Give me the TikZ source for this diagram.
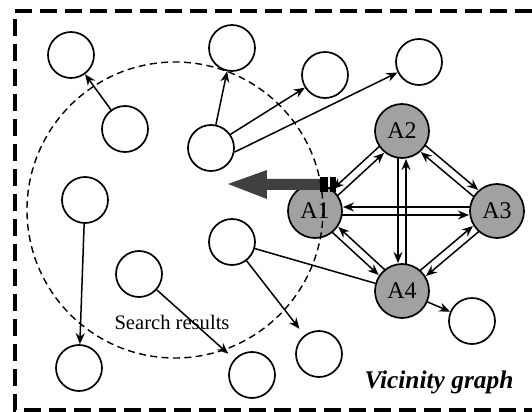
\documentclass[tikz,border=0pt]{standalone}
\usepackage{fontspec}
\setmainfont{Liberation Serif}
\usetikzlibrary{calc, arrows.meta}
\definecolor{agentgray}{gray}{0.63}
\definecolor{arrowgray}{gray}{0.25}

\begin{document}
\begin{tikzpicture}[x=0.5pt,y=-0.5pt,>={Stealth[length=5.5pt,width=4.5pt]},
  peer/.style={circle,draw,line width=0.85pt,minimum size=23pt,inner sep=0pt},
  agent/.style={circle,draw,fill=agentgray,line width=0.85pt,minimum size=27pt,inner sep=0pt,font=\fontsize{12}{14}\selectfont},
  link/.style={line width=0.75pt}]
\useasboundingbox (0,0) rectangle (532,412);
% Draw frame (open on the right)
\draw[line width=2pt,dash pattern=on 8.5pt off 4pt] (532,11) -- (15,11) -- (15,410) -- (532,410);
% Peer nodes
\node[peer] (p1) at (71,55) {};
\node[peer] (p2) at (232,48) {};
\node[peer] (p3) at (125,129) {};
\node[peer] (p4) at (211,148) {};
\node[peer] (p5) at (325,75) {};
\node[peer] (p6) at (419,62) {};
\node[peer] (p7) at (85,200) {};
\node[peer] (p8) at (139,274) {};
\node[peer] (p9) at (232,242) {};
\node[peer] (p10) at (79,368) {};
\node[peer] (p11) at (252,375) {};
\node[peer] (p12) at (319,354) {};
\node[peer] (p13) at (472,321) {};
% Agent nodes
\node[agent] (A1) at (315,211) {A1};
\node[agent] (A2) at (402,131) {A2};
\node[agent] (A3) at (497,211) {A3};
\node[agent] (A4) at (402,291) {A4};
% Links between peers
\draw[link,->] (p3) -- (p1);
\draw[link,->] (p4) -- (p2);
\draw[link,->] (p4.35) -- (p5);
\draw[link,->] (p4.-10) -- (p6);
\draw[link,->] (p7) -- (p10);
\draw[link,->,shorten >=4pt] (p8) -- (p11);
\draw[link,->,shorten >=4pt] (p9) -- (p12);
\draw[link] (p9) -- (A4);
\draw[link,->] (A4) -- (p13);
% Two-way links between agents
\foreach \a/\b/\s in {A1/A2/1,A2/A1/1,A1/A3/1,A3/A1/1,A1/A4/1,A4/A1/1,
                      A2/A4/1,A4/A2/1,A2/A3/-1,A3/A2/-1,A3/A4/-1,A4/A3/-1}
  \draw[link,->,shorten <=13.5pt,shorten >=14pt]
    ($(\a)!\s*2pt!-90:(\b)$) -- ($(\b)!\s*2pt!90:(\a)$);
% Big arrow towards the search area
\fill[arrowgray] (228,184) -- (267,170) -- (267,179) -- (320,179) -- (320,190) -- (267,190) -- (267,199) -- cycle;
\fill (320,177) rectangle (328,192);
\fill (330,177) rectangle (336,192);
% Search area
\draw[line width=0.7pt,dash pattern=on 3.5pt off 2.2pt] (175,210) circle [radius=74pt];
\node[anchor=base,font=\fontsize{10.3}{12}\selectfont] (search) at (172,329) {Search results};
\node[anchor=base,font=\fontsize{12.7}{15}\selectfont\bfseries\itshape] (vicinity) at (439,389) {Vicinity graph};
\end{tikzpicture}
\end{document}
